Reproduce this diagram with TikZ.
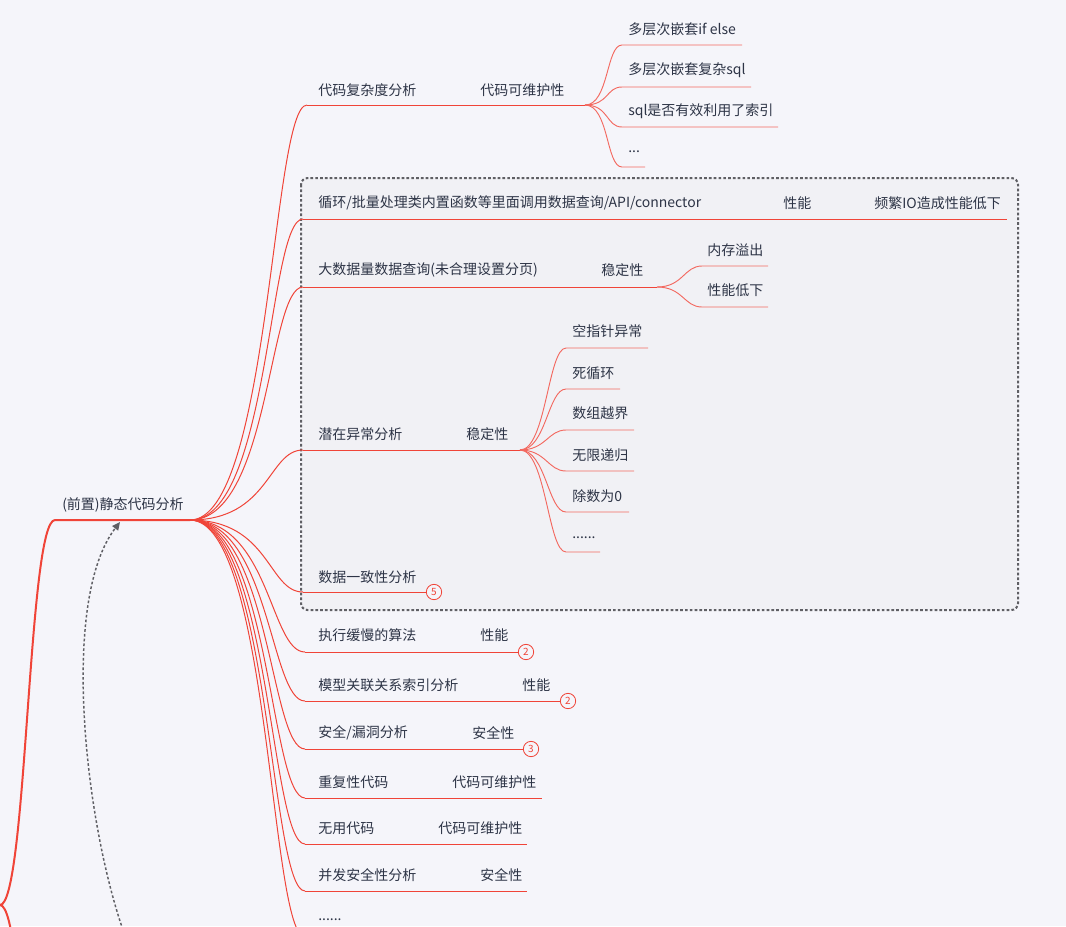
\documentclass[tikz,border=0pt]{standalone}
\usepackage{fontspec}
\setmainfont{Noto Sans CJK SC}
\usetikzlibrary{arrows.meta}
\definecolor{bg}{RGB}{245,245,250}
\definecolor{boxbg}{RGB}{241,241,245}
\definecolor{txt}{RGB}{45,52,70}
\definecolor{rd}{RGB}{240,68,56}
\definecolor{gr}{RGB}{95,95,100}
\begin{document}
\begin{tikzpicture}[x=0.75pt,y=-0.75pt,
  lbl/.style={anchor=west,inner sep=0pt,text=txt,font=\fontsize{10.5}{12}\selectfont},
  rootline/.style={draw=rd,line width=1.5pt},
  br/.style={draw=rd,line width=0.75pt},
  sub/.style={draw=rd!80,line width=0.7pt},
  badge/.style={circle,draw=rd,fill=bg,line width=0.6pt,minimum size=11.5pt,inner sep=0pt,text=rd,font=\fontsize{7.5}{8}\selectfont},
  boxstyle/.style={draw=gr,line width=1.5pt,dash pattern=on 2pt off 1.6pt,rounded corners=5pt,fill=boxbg}]
\useasboundingbox (0,0) rectangle (1066,926);
\clip (0,0) rectangle (1066,926);
\fill[bg] (0,0) rectangle (1066,926);
% dashed group box
\path[boxstyle] (301,178) rectangle (1018,610);

% root
\coordinate (root0) at (0,905);
\coordinate (rootL) at (55,520);
\coordinate (hub) at (190,520);
\coordinate (rootB) at (55,1290);
\node[lbl] (root) at (62,505) {(前置)静态代码分析};
\draw[rootline] (root0) .. controls +(27,0) and +(-27,0) .. (rootL) -- (hub);
\draw[rootline] (root0) .. controls +(27,0) and +(-27,0) .. (rootB);

% dashed arrow
\coordinate (arrS) at (123,930);
\coordinate (arrE) at (120,522);
\draw[gr,line width=1.1pt,dash pattern=on 2pt off 1.6pt,-{Triangle[length=6pt,width=5.5pt]}]
  (arrS) .. controls (85,820) and (60,600) .. (arrE);

% level-1 coordinates
\coordinate (c1) at (307,105);  \coordinate (h1) at (585,105);
\coordinate (c2) at (303,219);  \coordinate (e2) at (1007,219);
\coordinate (c3) at (303,287);  \coordinate (h3) at (657,287);
\coordinate (c4) at (303,450);  \coordinate (h4) at (520,450);
\coordinate (c5) at (303,592);
\coordinate (c6) at (305,652);
\coordinate (c7) at (305,701);
\coordinate (c8) at (305,749);
\coordinate (c9) at (305,798);  \coordinate (e9) at (542,798);
\coordinate (c10) at (305,844); \coordinate (e10) at (527,844);
\coordinate (c11) at (305,891); \coordinate (e11) at (527,891);
\coordinate (c12) at (305,937); \coordinate (e12) at (400,937);

\node[badge] (b5) at (434,592) {5};
\node[badge] (b6) at (526,652) {2};
\node[badge] (b7) at (568,701) {2};
\node[badge] (b8) at (531,749) {3};

\foreach \c in {c1,c2,c3,c4,c5,c6,c7,c8,c9,c10,c11,c12}
  \draw[br] (hub) .. controls +(80,0) and +(-35,0) .. (\c);
\draw[br] (c1) -- (h1);
\draw[br] (c2) -- (e2);
\draw[br] (c3) -- (h3);
\draw[br] (c4) -- (h4);
\draw[br] (c5) -- (b5.west);
\draw[br] (c6) -- (b6.west);
\draw[br] (c7) -- (b7.west);
\draw[br] (c8) -- (b8.west);
\draw[br] (c9) -- (e9);
\draw[br] (c10) -- (e10);
\draw[br] (c11) -- (e11);
\draw[br] (c12) -- (e12);

% level-1 texts
\node[lbl] (t1) at (318,90) {代码复杂度分析};
\node[lbl] (t1b) at (480,90) {代码可维护性};
\node[lbl] (t2) at (318,203) {循环/批量处理类内置函数等里面调用数据查询/API/connector};
\node[lbl] (t2b) at (783,203) {性能};
\node[lbl] (t2c) at (874,203) {频繁IO造成性能低下};
\node[lbl] (t3) at (318,270) {大数据量数据查询(未合理设置分页)};
\node[lbl] (t3b) at (601,270) {稳定性};
\node[lbl] (t4) at (318,434) {潜在异常分析};
\node[lbl] (t4b) at (466,434) {稳定性};
\node[lbl] (t5) at (318,577) {数据一致性分析};
\node[lbl] (t6) at (318,635) {执行缓慢的算法};
\node[lbl] (t6b) at (480,635) {性能};
\node[lbl] (t7) at (318,685) {模型关联关系索引分析};
\node[lbl] (t7b) at (522,685) {性能};
\node[lbl] (t8) at (318,733) {安全/漏洞分析};
\node[lbl] (t8b) at (472,733) {安全性};
\node[lbl] (t9) at (318,782) {重复性代码};
\node[lbl] (t9b) at (452,782) {代码可维护性};
\node[lbl] (t10) at (318,828) {无用代码};
\node[lbl] (t10b) at (438,828) {代码可维护性};
\node[lbl] (t11) at (318,875) {并发安全性分析};
\node[lbl] (t11b) at (480,875) {安全性};
\node[lbl] (t12) at (318,920) {......};

% group 1 children
\coordinate (g11) at (622,45);  \coordinate (f11) at (742,45);
\coordinate (g12) at (622,87);  \coordinate (f12) at (751,87);
\coordinate (g13) at (622,127); \coordinate (f13) at (778,127);
\coordinate (g14) at (622,167); \coordinate (f14) at (645,167);
\foreach \g/\f in {g11/f11,g12/f12,g13/f13,g14/f14}
  \draw[sub] (h1) .. controls +(24,0) and +(-16,0) .. (\g) -- (\f);
\node[lbl] (s11) at (628,29) {多层次嵌套if else};
\node[lbl] (s12) at (628,70) {多层次嵌套复杂sql};
\node[lbl] (s13) at (628,111) {sql是否有效利用了索引};
\node[lbl] (s14) at (628,152) {...};

% group 3 children
\coordinate (g31) at (702,266); \coordinate (f31) at (768,266);
\coordinate (g32) at (702,307); \coordinate (f32) at (768,307);
\foreach \g/\f in {g31/f31,g32/f32}
  \draw[sub] (h3) .. controls +(26,0) and +(-18,0) .. (\g) -- (\f);
\node[lbl] (s31) at (707,250) {内存溢出};
\node[lbl] (s32) at (707,290) {性能低下};

% group 4 children
\coordinate (g41) at (566,348); \coordinate (f41) at (648,348);
\coordinate (g42) at (566,389); \coordinate (f42) at (620,389);
\coordinate (g43) at (566,430); \coordinate (f43) at (634,430);
\coordinate (g44) at (566,471); \coordinate (f44) at (634,471);
\coordinate (g45) at (566,512); \coordinate (f45) at (629,512);
\coordinate (g46) at (566,552); \coordinate (f46) at (600,552);
\foreach \g/\f in {g41/f41,g42/f42,g43/f43,g44/f44,g45/f45,g46/f46}
  \draw[sub] (h4) .. controls +(26,0) and +(-18,0) .. (\g) -- (\f);
\node[lbl] (s41) at (572,331) {空指针异常};
\node[lbl] (s42) at (572,373) {死循环};
\node[lbl] (s43) at (572,413) {数组越界};
\node[lbl] (s44) at (572,455) {无限递归};
\node[lbl] (s45) at (572,496) {除数为0};
\node[lbl] (s46) at (572,538) {......};
\end{tikzpicture}
\end{document}
